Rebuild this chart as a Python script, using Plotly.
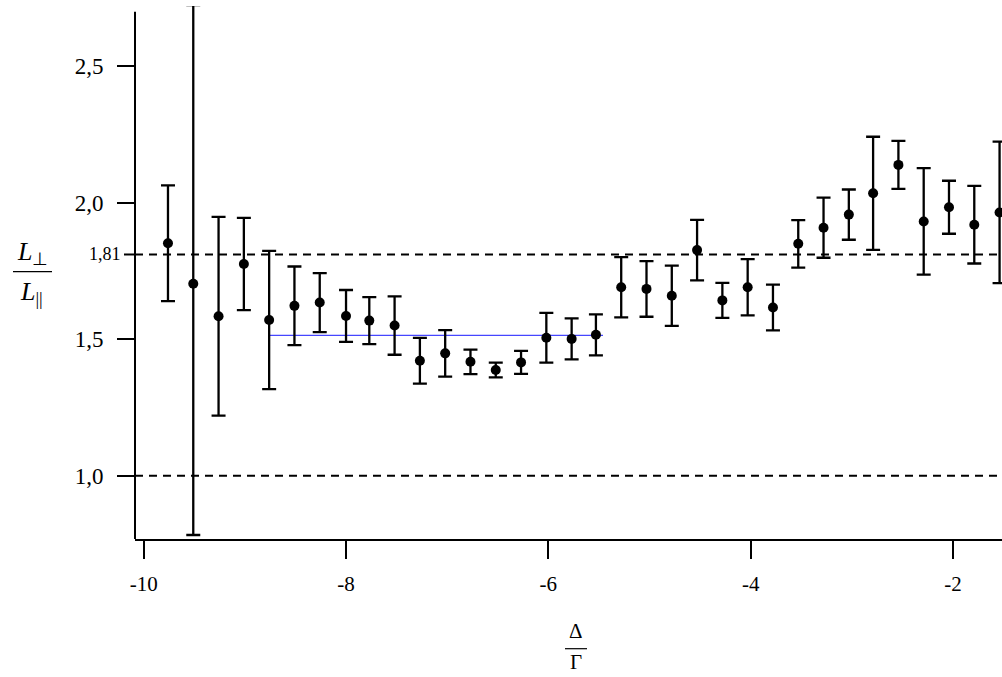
import plotly.graph_objects as go

# ---- data ----
detuning = [-9.76, -9.51, -9.26, -9.01, -8.76, -8.51, -8.26, -8.0, -7.77, -7.52,
            -7.27, -7.02, -6.77, -6.52, -6.27, -6.02, -5.77, -5.53, -5.28, -5.03,
            -4.78, -4.53, -4.28, -4.03, -3.78, -3.53, -3.28, -3.03, -2.79, -2.54,
            -2.29, -2.04, -1.79, -1.54]
ratio = [1.851, 1.703, 1.584, 1.775, 1.570, 1.622, 1.634, 1.585, 1.568, 1.550,
         1.421, 1.448, 1.417, 1.387, 1.415, 1.505, 1.501, 1.516, 1.690, 1.684,
         1.659, 1.826, 1.642, 1.690, 1.616, 1.849, 1.908, 1.956, 2.034, 2.138,
         1.931, 1.983, 1.919, 1.964]
err_plus = [0.212, 1.02, 0.364, 0.169, 0.253, 0.144, 0.108, 0.095, 0.086, 0.107,
            0.084, 0.085, 0.045, 0.027, 0.042, 0.091, 0.075, 0.075, 0.110, 0.102,
            0.110, 0.111, 0.064, 0.103, 0.084, 0.087, 0.110, 0.092, 0.207, 0.088,
            0.195, 0.097, 0.142, 0.259]
err_minus = [0.212, 0.92, 0.364, 0.169, 0.253, 0.144, 0.108, 0.095, 0.086, 0.107,
             0.084, 0.085, 0.045, 0.027, 0.042, 0.091, 0.075, 0.075, 0.110, 0.102,
             0.110, 0.111, 0.064, 0.103, 0.084, 0.087, 0.110, 0.092, 0.207, 0.088,
             0.195, 0.097, 0.142, 0.259]
fit_x = [-8.76, -5.46]
fit_y = [1.514, 1.514]
ref_levels = [1.81, 1.0]
x_ticks = [-10, -8, -6, -4, -2]
x_ticktext = ["-10", "-8", "-6", "-4", "-2"]
y_ticks = [1.0, 1.5, 2.0, 2.5]
y_ticktext = ["1,0", "1,5", "2,0", "2,5"]
special_label = "1,81"

# ---- layout geometry ----
W, H = 1002, 677
ML, MR, MT, MB = 135, 0, 6, 138
PW, PH = W - ML - MR, H - MT - MB
FONT = "Liberation Serif"


def px(xpix):
    return (xpix - ML) / PW


def py(ypix):
    return (H - MB - ypix) / PH


fig = go.Figure()

fig.add_trace(go.Scatter(
    x=fit_x, y=fit_y, mode="lines",
    line=dict(color="rgb(70,70,255)", width=1.2),
    showlegend=False, hoverinfo="skip"))

fig.add_trace(go.Scatter(
    x=detuning, y=ratio, mode="markers",
    marker=dict(color="black", size=10),
    error_y=dict(type="data", symmetric=False, array=err_plus, arrayminus=err_minus,
                 color="black", thickness=2.3, width=7),
    showlegend=False))

shapes = []
for lv in ref_levels:
    shapes.append(dict(type="line", xref="paper", yref="y", x0=0, x1=1, y0=lv, y1=lv,
                       line=dict(color="black", width=2, dash="8px,6px"), layer="below"))
# y axis line
shapes.append(dict(type="line", xref="paper", yref="y", x0=0, x1=0, y0=0.7684, y1=2.699,
                   line=dict(color="black", width=2)))
# tick for the special level
shapes.append(dict(type="line", xref="paper", yref="y", x0=px(124), x1=0,
                   y0=ref_levels[0], y1=ref_levels[0], line=dict(color="black", width=2)))
# fraction bars
shapes.append(dict(type="line", xref="paper", yref="paper", x0=px(13), x1=px(52),
                   y0=py(271.7), y1=py(271.7), line=dict(color="black", width=1.2)))
shapes.append(dict(type="line", xref="paper", yref="paper", x0=px(565), x1=px(587),
                   y0=py(648.7), y1=py(648.7), line=dict(color="black", width=1.2)))

annotations = [
    dict(text=special_label, xref="paper", yref="y", x=px(123), y=ref_levels[0],
         xanchor="right", yanchor="middle", showarrow=False,
         font=dict(family=FONT, size=18, color="black")),
    dict(text="<i>L</i><sub>⊥</sub>", xref="paper", yref="paper", x=px(32), y=py(271),
         xanchor="center", yanchor="bottom", showarrow=False,
         font=dict(family=FONT, size=26, color="black")),
    dict(text="<i>L</i><sub>||</sub>", xref="paper", yref="paper", x=px(31), y=py(275),
         xanchor="center", yanchor="top", showarrow=False,
         font=dict(family=FONT, size=26, color="black")),
    dict(text="Δ", xref="paper", yref="paper", x=px(576), y=py(645),
         xanchor="center", yanchor="bottom", showarrow=False,
         font=dict(family=FONT, size=21, color="black")),
    dict(text="Γ", xref="paper", yref="paper", x=px(576), y=py(648),
         xanchor="center", yanchor="top", showarrow=False,
         font=dict(family=FONT, size=21, color="black")),
]

fig.update_layout(
    width=W, height=H,
    margin=dict(l=ML, r=MR, t=MT, b=MB, pad=0),
    paper_bgcolor="white", plot_bgcolor="white",
    shapes=shapes, annotations=annotations,
    font=dict(family=FONT, color="black"),
    xaxis=dict(range=[-10.086, -1.516], showgrid=False, zeroline=False,
               showline=True, linecolor="black", linewidth=2,
               ticks="outside", ticklen=18, tickwidth=2, tickcolor="black",
               tickvals=x_ticks, ticktext=x_ticktext, ticklabelstandoff=7,
               tickfont=dict(family=FONT, size=21, color="black")),
    yaxis=dict(range=[0.7684, 2.7197], showgrid=False, zeroline=False,
               showline=False,
               ticks="outside", ticklen=17, tickwidth=2, tickcolor="black",
               tickvals=y_ticks, ticktext=y_ticktext, ticklabelstandoff=9,
               tickfont=dict(family=FONT, size=23, color="black")),
)

fig.write_html("out.html", config={"displayModeBar": False},
               post_script="document.body.style.margin='0';document.body.style.overflow='hidden';")
